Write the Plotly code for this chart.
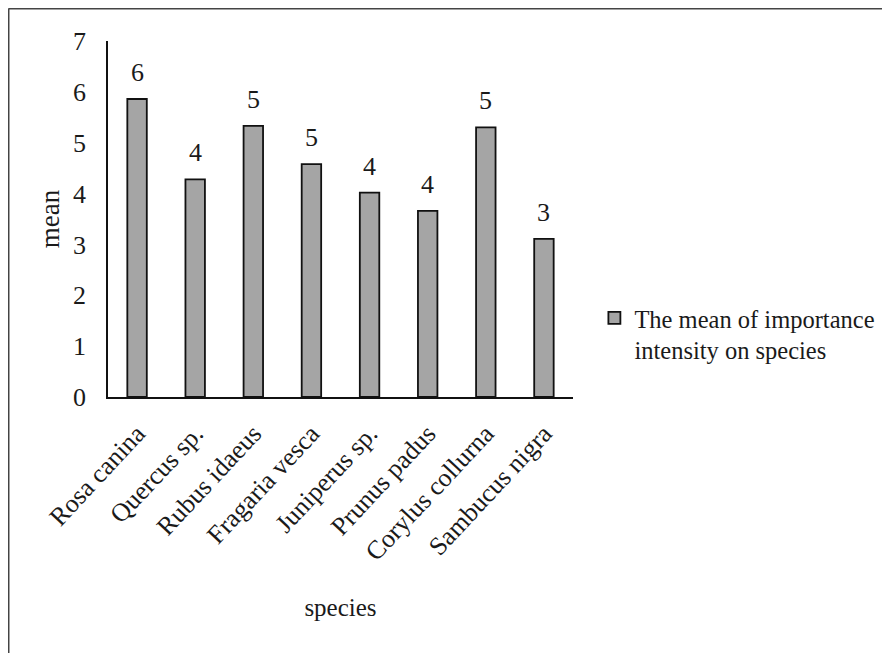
import plotly.graph_objects as go

species = [
    "Rosa canina",
    "Quercus sp.",
    "Rubus idaeus",
    "Fragaria vesca",
    "Juniperus sp.",
    "Prunus padus",
    "Corylus collurna",
    "Sambucus nigra",
]
mean_values = [5.86, 4.28, 5.33, 4.58, 4.02, 3.66, 5.30, 3.11]
series_name = "The mean of importance<br>intensity on species"

FONT = "Liberation Serif, Times New Roman, serif"
TEXT_COLOR = "#1a1a1a"

fig = go.Figure()

fig.add_trace(
    go.Bar(
        x=species,
        y=mean_values,
        name=series_name,
        width=0.335,
        marker=dict(color="#a5a5a5", line=dict(color="#111111", width=1.8)),
        showlegend=True,
    )
)

# rounded value labels above each bar
for name, val in zip(species, mean_values):
    fig.add_annotation(
        x=name,
        y=val,
        text=str(round(val)),
        showarrow=False,
        yanchor="bottom",
        yshift=10,
        font=dict(family=FONT, size=26, color=TEXT_COLOR),
    )

fig.update_xaxes(
    showline=True,
    linecolor="#111111",
    linewidth=2,
    ticks="",
    tickangle=-47,
    ticklabelstandoff=9,
    tickfont=dict(family=FONT, size=26, color=TEXT_COLOR),
    title=dict(text="species", font=dict(family=FONT, size=25, color=TEXT_COLOR), standoff=33),
)
fig.update_yaxes(
    range=[0, 7],
    dtick=1,
    showline=True,
    linecolor="#111111",
    linewidth=1.5,
    showgrid=False,
    zeroline=False,
    ticks="",
    ticklabelstandoff=15,
    tickfont=dict(family=FONT, size=26, color=TEXT_COLOR),
    title=dict(text="mean", font=dict(family=FONT, size=27, color=TEXT_COLOR), standoff=6),
)

# frame lines (top and left) around the figure
fig.add_shape(type="line", xref="paper", yref="paper",
              x0=-0.2140, x1=1.72, y0=1.0913, y1=1.0913,
              line=dict(color="#444444", width=2))
fig.add_shape(type="line", xref="paper", yref="paper",
              x0=-0.2140, x1=-0.2140, y0=1.0913, y1=-0.72,
              line=dict(color="#444444", width=2))

fig.update_layout(
    width=900,
    height=645,
    margin=dict(l=100, r=335, t=33, b=256),
    plot_bgcolor="white",
    paper_bgcolor="white",
    legend=dict(
        x=1.046,
        xanchor="left",
        y=0.285,
        yanchor="top",
        valign="top",
        font=dict(family=FONT, size=24.5, color=TEXT_COLOR),
        bgcolor="rgba(0,0,0,0)",
    ),
)

fig.write_html("out.html")
